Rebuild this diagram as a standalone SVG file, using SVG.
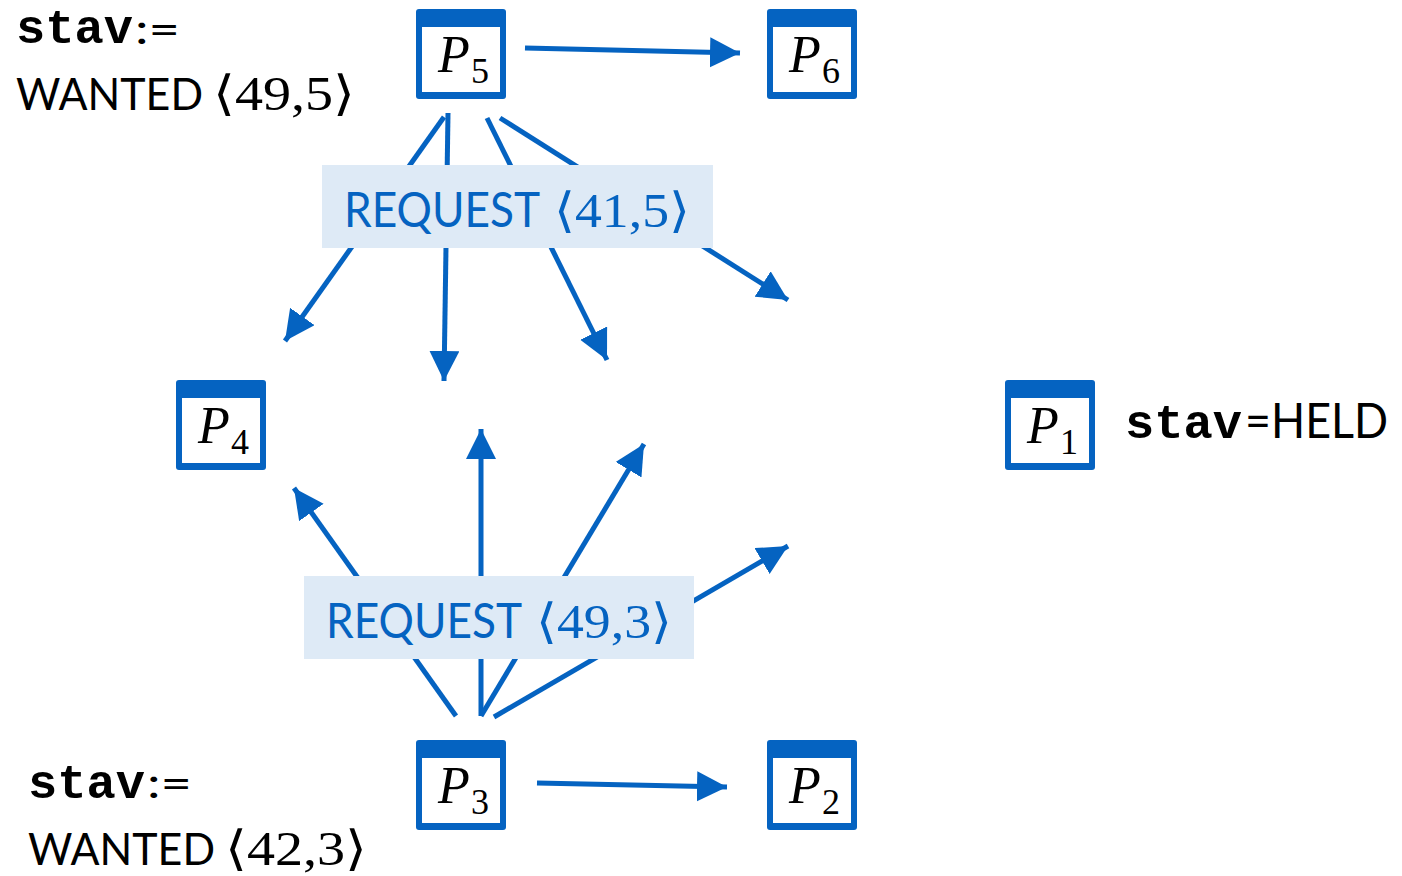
<svg xmlns="http://www.w3.org/2000/svg" xmlns:xlink="http://www.w3.org/1999/xlink" width="1402" height="876" viewBox="0 0 1402 876">
<style>
.blue{fill:#0563C1}
.sans{font-family:"Lato","Open Sans","Liberation Sans",sans-serif;font-size:48px}
.w{font-size:45px}
.op{font-size:42px}
.math{font-family:"Liberation Serif","DejaVu Serif",serif;font-size:48px}
.mono{font-family:"Liberation Mono","DejaVu Sans Mono",monospace;font-size:48px;font-weight:bold}
.pn{font-family:"Liberation Serif","DejaVu Serif",serif;font-style:italic;font-size:52px}
.sub{font-family:"Liberation Serif","DejaVu Serif",serif;font-size:36px}
.con{stroke:#0563C1;stroke-width:5;fill:none;marker-end:url(#ah)}
.lbl{fill:#DEEAF6}
</style>
<defs>
<marker id="ah" markerUnits="userSpaceOnUse" markerWidth="32" markerHeight="32" refX="30" refY="15" orient="auto" viewBox="0 0 32 32">
<path d="M0,0 L30,15 L0,30 Z" fill="#0563C1"/>
</marker>
<g id="box">
<rect width="90" height="90" rx="3" fill="#0563C1"/>
<rect x="6" y="18" width="78" height="65" fill="#fff"/>
</g>
</defs>
<rect width="1402" height="876" fill="#fff"/>

<g id="connectors">
<line class="con" x1="525" y1="48" x2="740" y2="53"/>
<line class="con" x1="444" y1="117" x2="285" y2="341"/>
<line class="con" x1="448" y1="113" x2="444" y2="381"/>
<line class="con" x1="487" y1="118" x2="607" y2="360"/>
<line class="con" x1="500" y1="118" x2="788" y2="300"/>
<line class="con" x1="537" y1="783" x2="727" y2="787"/>
<line class="con" x1="456" y1="716" x2="294" y2="488"/>
<line class="con" x1="481" y1="716" x2="481" y2="429"/>
<line class="con" x1="481" y1="716" x2="644" y2="444"/>
<line class="con" x1="494" y1="717" x2="788" y2="546"/>
</g>

<g id="label1">
<rect class="lbl" x="322" y="165" width="391" height="83"/>
<text class="sans blue" x="344" y="227" textLength="196" lengthAdjust="spacingAndGlyphs">REQUEST</text>
<text class="math blue" x="554" y="227" textLength="136" lengthAdjust="spacingAndGlyphs">⟨41,5⟩</text>
</g>
<g id="label2">
<rect class="lbl" x="304" y="576" width="390" height="83"/>
<text class="sans blue" x="326" y="638" textLength="196" lengthAdjust="spacingAndGlyphs">REQUEST</text>
<text class="math blue" x="536" y="638" textLength="136" lengthAdjust="spacingAndGlyphs">⟨49,3⟩</text>
</g>

<g id="p5" transform="translate(416,9)"><use xlink:href="#box"/><text class="pn" x="22" y="63">P</text><text class="sub" x="55" y="74">5</text></g>
<g id="p6" transform="translate(767,9)"><use xlink:href="#box"/><text class="pn" x="22" y="63">P</text><text class="sub" x="55" y="74">6</text></g>
<g id="p4" transform="translate(176,380)"><use xlink:href="#box"/><text class="pn" x="22" y="63">P</text><text class="sub" x="55" y="74">4</text></g>
<g id="p1" transform="translate(1005,380)"><use xlink:href="#box"/><text class="pn" x="22" y="63">P</text><text class="sub" x="55" y="74">1</text></g>
<g id="p3" transform="translate(416,740)"><use xlink:href="#box"/><text class="pn" x="22" y="63">P</text><text class="sub" x="55" y="74">3</text></g>
<g id="p2" transform="translate(767,740)"><use xlink:href="#box"/><text class="pn" x="22" y="63">P</text><text class="sub" x="55" y="74">2</text></g>

<g id="state5">
<text class="mono" x="16" y="43" textLength="117" lengthAdjust="spacingAndGlyphs">stav</text>
<text class="sans op" x="135" y="44" textLength="45" lengthAdjust="spacingAndGlyphs">:=</text>
<text class="sans w" x="16" y="110" textLength="187" lengthAdjust="spacingAndGlyphs">WANTED</text>
<text class="math" x="213" y="110" textLength="142" lengthAdjust="spacingAndGlyphs">⟨49,5⟩</text>
</g>
<g id="state3">
<text class="mono" x="28" y="798" textLength="117" lengthAdjust="spacingAndGlyphs">stav</text>
<text class="sans op" x="147" y="798" textLength="45" lengthAdjust="spacingAndGlyphs">:=</text>
<text class="sans w" x="28" y="865" textLength="187" lengthAdjust="spacingAndGlyphs">WANTED</text>
<text class="math" x="225" y="865" textLength="142" lengthAdjust="spacingAndGlyphs">⟨42,3⟩</text>
</g>
<g id="state1">
<text class="mono" x="1125" y="438" textLength="117" lengthAdjust="spacingAndGlyphs">stav</text>
<text class="sans" x="1245" y="438" textLength="143" lengthAdjust="spacingAndGlyphs">=HELD</text>
</g>
</svg>
